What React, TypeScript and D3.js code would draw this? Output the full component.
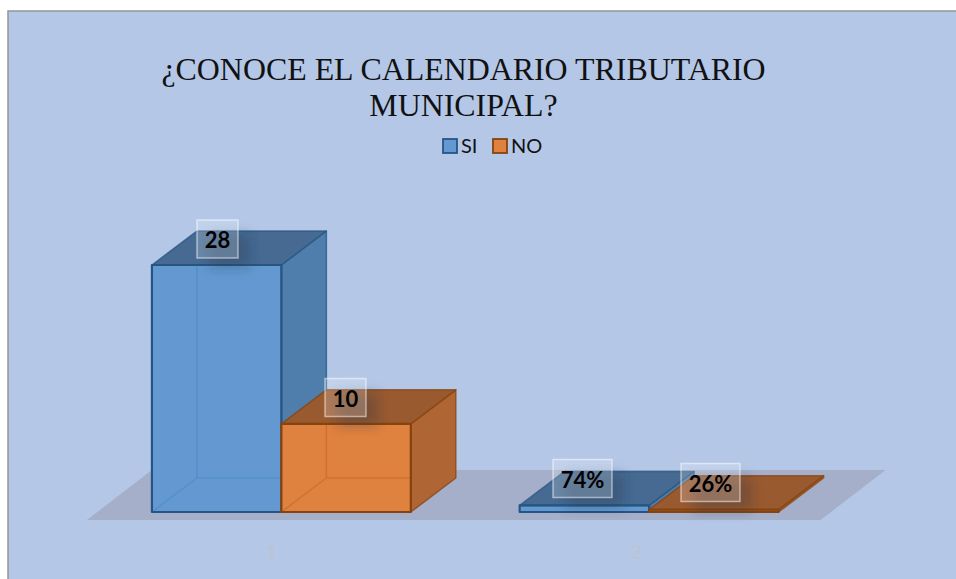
import * as d3 from 'd3';

const categories = ['1', '2'];
const seriesNames = ['SI', 'NO'];
const siValues = [28, 0.74];
const noValues = [10, 0.26];
const siLabels = ['28', '74%'];
const noLabels = ['10', '26%'];
const titleLines = ['¿CONOCE EL CALENDARIO TRIBUTARIO', 'MUNICIPAL?'];

const width = 956;
const height = 579;
const baseY = 512;
const depthX = 45;
const depthY = -34;

const SANS = 'Lato, "Open Sans", sans-serif';

const blue = { front: '#6399d0', side: '#4f7ead', top: '#466a92', stroke: '#265583', inner: '#5590c8' };
const orange = { front: '#e0823f', side: '#b06535', top: '#9a5a30', stroke: '#85440f', inner: '#cf7230' };

const x0 = d3.scaleBand().domain(categories).range([97.5, 833]).paddingInner(0.296).paddingOuter(0.148);
const x1 = d3.scaleBand().domain(seriesNames).range([0, x0.bandwidth()]);
const y = d3.scaleLinear().domain([0, 28]).range([baseY, 265]);

const pts = (list: number[][]) => list.map((p) => p.join(',')).join(' ');

function Box({ x, w, top, c }: { x: number; w: number; top: number; c: typeof blue }) {
  const r = x + w;
  const dx = depthX;
  const dy = depthY;
  return (
    <g strokeLinejoin="round">
      <rect x={x} y={top} width={w} height={baseY - top} fill={c.front} />
      {/* back edges seen through the front face */}
      <path d={`M${x},${baseY}L${x + dx},${baseY + dy}L${r},${baseY + dy}M${x + dx},${baseY + dy}L${x + dx},${top}`} fill="none" stroke={c.inner} strokeWidth={1.5} strokeOpacity={top < baseY + dy ? 1 : 0} />
      <polygon points={pts([[r, baseY], [r + dx, baseY + dy], [r + dx, top + dy], [r, top]])} fill={c.side} stroke={c.stroke} strokeWidth={1.5} strokeOpacity={0.75} />
      <polygon points={pts([[x, top], [x + dx, top + dy], [r + dx, top + dy], [r, top]])} fill={c.top} stroke={c.stroke} strokeWidth={1.5} strokeOpacity={0.75} />
      <rect x={x} y={top} width={w} height={baseY - top} fill="none" stroke={c.stroke} strokeWidth={2.2} />
    </g>
  );
}

function DataLabel({ cx, cy, w, text }: { cx: number; cy: number; w: number; text: string }) {
  const h = 38;
  return (
    <g>
      <rect x={cx - w / 2 + 12} y={cy - h / 2 + 14} width={w} height={h - 4} fill="#1d2c44" fillOpacity={0.28} filter="url(#labelShadow)" />
      <rect x={cx - w / 2} y={cy - h / 2} width={w} height={h} fill="#ffffff" fillOpacity={0.2} stroke="#ffffff" strokeOpacity={0.5} strokeWidth={1.5} />
      <text x={cx} y={cy + 9} textAnchor="middle" fontFamily={SANS} fontWeight={700} fontSize={22} fill="#000">{text}</text>
    </g>
  );
}

export default function App() {
  const floorLeft = x0(categories[0])! - 65;
  const floorRight = x0(categories[1])! + x0.bandwidth() + 42;
  const labelCols = [
    { labels: siLabels, offs: [[217.5, 239, 41], [582.5, 478.5, 59]] },
    { labels: noLabels, offs: [[345.5, 397.5, 41], [710.5, 482.5, 59]] },
  ];
  return (
    <svg width={width} height={height} style={{ position: 'absolute', left: 0, top: 0 }}>
      <defs>
        <filter id="labelShadow" x="-50%" y="-50%" width="200%" height="200%">
          <feGaussianBlur stdDeviation="6" />
        </filter>
      </defs>
      <rect width={width} height={height} fill="#ffffff" />
      <rect x={8} y={11} width={width - 8} height={height - 11} fill="#b4c7e7" />
      <path d={`M8,${height}V11H${width}`} fill="none" stroke="#959595" strokeWidth={1.5} />

      {titleLines.map((line, i) => (
        <text key={line} x={463.5} y={80 + i * 36} textAnchor="middle" fontFamily='"Liberation Serif", serif' fontSize={31.9} fill="#111">{line}</text>
      ))}

      {seriesNames.map((name, i) => {
        const c = i === 0 ? blue : orange;
        const lx = i === 0 ? 443 : 493;
        return (
          <g key={name}>
            <rect x={lx} y={139} width={14} height={14} fill={c.front} stroke={c.stroke} strokeWidth={1.8} />
            <text x={lx + 18} y={153} fontFamily={SANS} fontSize={20} fill="#111">{name}</text>
          </g>
        );
      })}

      <polygon points={pts([[floorLeft, 520], [floorRight, 520], [floorRight + 65, 470], [floorLeft + 65, 470]])} fill="#a5afc9" />

      {categories.map((cat, i) => (
        <g key={cat}>
          <Box x={x0(cat)! + x1('SI')!} w={x1.bandwidth()} top={y(siValues[i])} c={blue} />
          <Box x={x0(cat)! + x1('NO')!} w={x1.bandwidth()} top={y(noValues[i])} c={orange} />
          <text x={x0(cat)! + x0.bandwidth() / 2 - 10 - i * 3} y={559} textAnchor="middle" fontFamily={SANS} fontSize={20} fill="#bcc3d1">{cat}</text>
        </g>
      ))}

      {labelCols.map((col) =>
        col.labels.map((label, i) => (
          <DataLabel key={label} cx={col.offs[i][0]} cy={col.offs[i][1]} w={col.offs[i][2]} text={label} />
        )),
      )}
    </svg>
  );
}
